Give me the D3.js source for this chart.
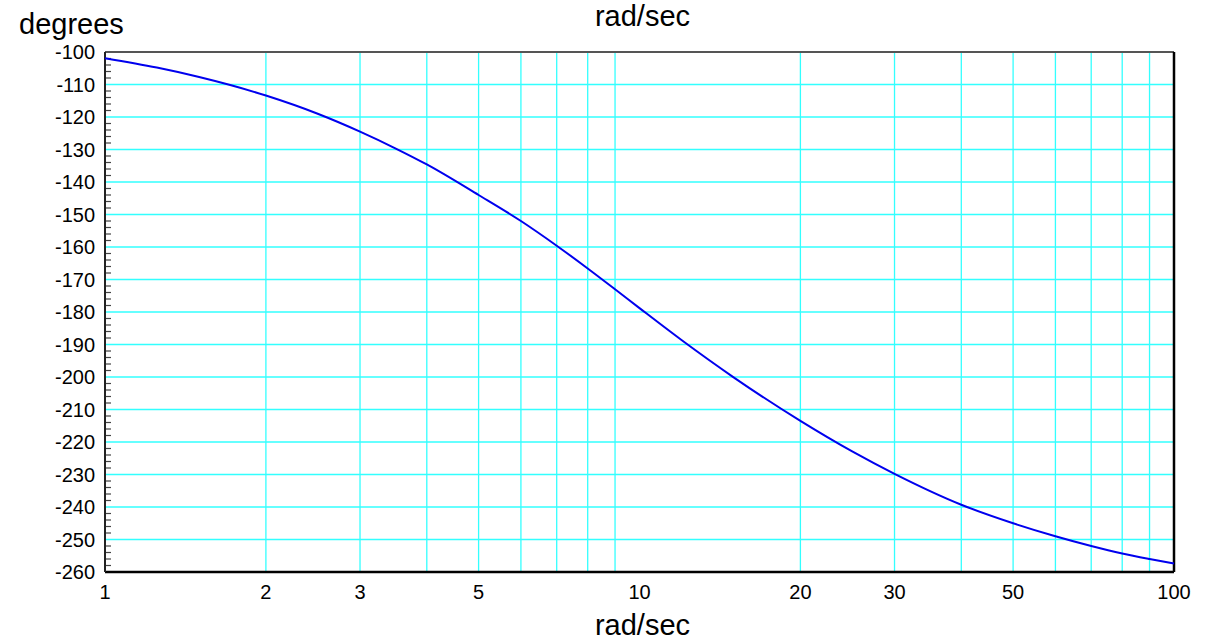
<!DOCTYPE html>
<html>
  <head>
    <meta charset="utf-8">
    <script src="https://d3js.org/d3.v7.min.js"></script>
    <title>Phase plot</title>
    <style>
      body {
        margin: 0px;
        background: #fff;
      }
      text {
        font-family: "Liberation Sans", Arial, sans-serif;
        fill: #000;
      }
      .tick-label {
        font-size: 20px;
      }
      .axis-title {
        font-size: 29px;
      }
    </style>
  </head>
  <body>
    <svg width="1212" height="642"></svg>
    <script>
      // frequency (rad/sec) and phase (degrees)
      const freq  = [1, 1.25, 1.5, 2, 2.5, 3, 3.5, 4, 5, 6, 7, 8, 9, 10, 12, 15, 20, 25, 30, 40, 50, 60, 70, 80, 90, 100];
      const phase = [-101.9, -104.8, -107.7, -113.4, -119.0, -124.5, -129.7, -134.6, -144.0, -152.0, -159.6, -166.6, -173.0, -178.8,
                     -188.7, -200.1, -213.5, -222.9, -229.8, -239.3, -245.0, -249.0, -252.0, -254.3, -256.0, -257.4];

      const xTicks = [1, 2, 3, 5, 10, 20, 30, 50, 100];
      const xGrid = [2, 3, 4, 5, 6, 7, 8, 9, 20, 30, 40, 50, 60, 70, 80, 90];
      const yTicks = d3.range(-100, -261, -10);
      const yMinor = d3.range(-102, -260, -2).filter(v => v % 10 !== 0);

      const svg = d3.select('svg');
      const plotL = 105, plotR = 1174, plotT = 52, plotB = 572;

      const xScale = d3.scaleLog().domain([1, 100]).range([plotL, plotR]);
      const yScale = d3.scaleLinear().domain([-100, -260]).range([plotT, plotB]);

      // grid lines
      svg.append('g').selectAll('line').data(xGrid)
        .enter().append('line')
          .attr('x1', d => xScale(d)).attr('x2', d => xScale(d))
          .attr('y1', plotT).attr('y2', plotB)
          .attr('stroke', '#33ffff').attr('stroke-width', 1.3);
      svg.append('g').selectAll('line').data(yTicks.slice(1, -1))
        .enter().append('line')
          .attr('x1', plotL).attr('x2', plotR)
          .attr('y1', d => yScale(d)).attr('y2', d => yScale(d))
          .attr('stroke', '#33ffff').attr('stroke-width', 1.3);

      // minor ticks on the left edge
      svg.append('g').selectAll('line').data(yMinor)
        .enter().append('line')
          .attr('x1', plotL).attr('x2', plotL + 6)
          .attr('y1', d => yScale(d)).attr('y2', d => yScale(d))
          .attr('stroke', '#444').attr('stroke-width', 1.2);

      // frame
      svg.append('line').attr('x1', plotL).attr('x2', plotR).attr('y1', plotT).attr('y2', plotT)
        .attr('stroke', '#555').attr('stroke-width', 2);
      svg.append('line').attr('x1', plotL).attr('x2', plotR).attr('y1', plotB).attr('y2', plotB)
        .attr('stroke', '#000').attr('stroke-width', 2.5);
      svg.append('line').attr('x1', plotL).attr('x2', plotL).attr('y1', plotT).attr('y2', plotB)
        .attr('stroke', '#222').attr('stroke-width', 2);
      svg.append('line').attr('x1', plotR).attr('x2', plotR).attr('y1', plotT).attr('y2', plotB)
        .attr('stroke', '#000').attr('stroke-width', 2.5);

      // phase curve
      const line = d3.line()
        .x((d, i) => xScale(freq[i]))
        .y(d => yScale(d))
        .curve(d3.curveMonotoneX);
      svg.append('path')
        .datum(phase)
        .attr('d', line)
        .attr('fill', 'none')
        .attr('stroke', '#0000ee')
        .attr('stroke-width', 2);

      // tick labels
      svg.append('g').selectAll('text').data(yTicks)
        .enter().append('text')
          .attr('class', 'tick-label')
          .attr('x', 95)
          .attr('y', d => yScale(d))
          .attr('dy', '0.36em')
          .attr('text-anchor', 'end')
          .text(d => d);
      svg.append('g').selectAll('text').data(xTicks)
        .enter().append('text')
          .attr('class', 'tick-label')
          .attr('x', d => xScale(d))
          .attr('y', 599)
          .attr('text-anchor', 'middle')
          .text(d => d);

      // titles
      svg.append('text').attr('class', 'axis-title')
        .attr('x', 19).attr('y', 34).text('degrees');
      svg.append('text').attr('class', 'axis-title')
        .attr('x', (plotL + plotR) / 2 + 3).attr('y', 26)
        .attr('text-anchor', 'middle').text('rad/sec');
      svg.append('text').attr('class', 'axis-title')
        .attr('x', (plotL + plotR) / 2 + 3).attr('y', 635)
        .attr('text-anchor', 'middle').text('rad/sec');
    </script>
  </body>
</html>
